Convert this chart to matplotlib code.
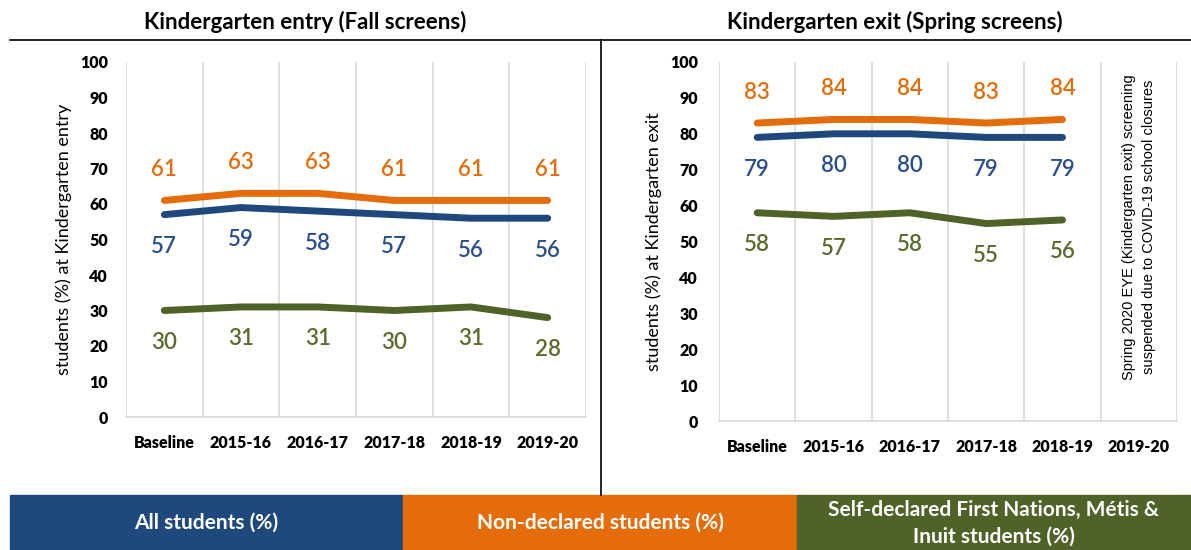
import matplotlib
matplotlib.use("Agg")
import matplotlib.pyplot as plt
import numpy as np
from matplotlib.patches import Rectangle
from matplotlib.lines import Line2D

plt.rcParams["font.family"] = ["Lato", "DejaVu Sans"]

# ---- data ----
categories = ["Baseline", "2015-16", "2016-17", "2017-18", "2018-19", "2019-20"]

entry_all = [57, 59, 58, 57, 56, 56]
entry_nondeclared = [61, 63, 63, 61, 61, 61]
entry_fnmi = [30, 31, 31, 30, 31, 28]

exit_all = [79, 80, 80, 79, 79]
exit_nondeclared = [83, 84, 84, 83, 84]
exit_fnmi = [58, 57, 58, 55, 56]

legend_labels = ["All students (%)", "Non-declared students (%)",
                 "Self-declared First Nations, Métis &\nInuit students (%)"]

C_BLUE = "#1F497D"
C_ORANGE = "#E46C0A"
C_GREEN = "#4F6228"
C_LBL_BLUE = "#2B4F8A"
C_LBL_GREEN = "#5B6B2C"
C_GRID = "#D9D9D9"

W, H = 1191, 550
fig = plt.figure(figsize=(W / 100, H / 100), dpi=100)


def fx(px):
    return px / W


def fy(py):
    return 1 - py / H


def setup_axes(ax, ylabel, ypad):
    ax.set_xlim(-0.5, len(categories) - 0.5)
    ax.set_ylim(0, 100)
    ax.set_xticks(range(len(categories)))
    ax.set_xticklabels(categories, fontsize=11.5, fontweight="heavy")
    ax.set_xticks(np.arange(-0.5, len(categories)), minor=True)
    ax.set_yticks(range(0, 101, 10))
    ax.set_yticklabels([str(v) for v in range(0, 101, 10)], fontsize=11.5,
                       fontweight="heavy")
    ax.tick_params(axis="both", which="both", length=0)
    ax.tick_params(axis="y", pad=ypad)
    ax.tick_params(axis="x", pad=13)
    ax.grid(True, which="minor", axis="x", color=C_GRID, linewidth=1.2)
    ax.grid(False, which="major")
    for s in ["top", "right", "left"]:
        ax.spines[s].set_visible(False)
    ax.spines["bottom"].set_color(C_GRID)
    ax.spines["bottom"].set_linewidth(1.2)
    ax.set_ylabel(ylabel, fontsize=13, labelpad=6)


def draw_series(ax, values, color, lblcolor, above):
    x = np.arange(len(values))
    ax.plot(x, values, color=color, linewidth=5, solid_capstyle="round",
            solid_joinstyle="round", zorder=3)
    for xi, v in zip(x, values):
        ax.annotate(str(v), (xi, v), xytext=(0, 22 if above else -23),
                    textcoords="offset points", ha="center", va="center",
                    fontsize=16, fontweight="semibold", color=lblcolor)


ax1 = fig.add_axes([fx(126), fy(417), fx(586 - 126), (417 - 62) / H])
setup_axes(ax1, "students (%) at Kindergarten entry", 13)
draw_series(ax1, entry_nondeclared, C_ORANGE, C_ORANGE, True)
draw_series(ax1, entry_all, C_BLUE, C_LBL_BLUE, False)
draw_series(ax1, entry_fnmi, C_GREEN, C_LBL_GREEN, False)

ax2 = fig.add_axes([fx(719), fy(421), fx(1177 - 719), (421 - 62) / H])
setup_axes(ax2, "students (%) at Kindergarten exit", 15)
draw_series(ax2, exit_nondeclared, C_ORANGE, C_ORANGE, True)
draw_series(ax2, exit_all, C_BLUE, C_LBL_BLUE, False)
draw_series(ax2, exit_fnmi, C_GREEN, C_LBL_GREEN, False)
ax2.text(5, 54, "Spring 2020 EYE (Kindergarten exit) screening\nsuspended due to COVID-19 school closures",
         rotation=90, ha="center", va="center", fontsize=10.5, linespacing=1.5,
         family=["Liberation Sans", "DejaVu Sans"])

# titles and frame lines
fig.text(fx(305), fy(22), "Kindergarten entry (Fall screens)", ha="center", va="center",
         fontsize=16, fontweight="bold")
fig.text(fx(895), fy(22), "Kindergarten exit (Spring screens)", ha="center", va="center",
         fontsize=16, fontweight="bold")
fig.add_artist(Line2D([fx(10), 1], [fy(40), fy(40)], color="black", linewidth=1.2))
fig.add_artist(Line2D([fx(601), fx(601)], [fy(40), fy(495)], color="black", linewidth=1.2))

# bottom legend band
band = [(10, 403, C_BLUE), (403, 797, C_ORANGE), (797, 1191, C_GREEN)]
for (x0, x1, col), lab in zip(band, legend_labels):
    fig.add_artist(Rectangle((fx(x0), 0), fx(x1 - x0), fy(495), color=col,
                             transform=fig.transFigure))
    fig.text(fx((x0 + x1) / 2), fy(523), lab, ha="center", va="center", color="white",
             fontsize=15, fontweight="bold", linespacing=1.4)

fig.savefig("out.png", dpi=100)
